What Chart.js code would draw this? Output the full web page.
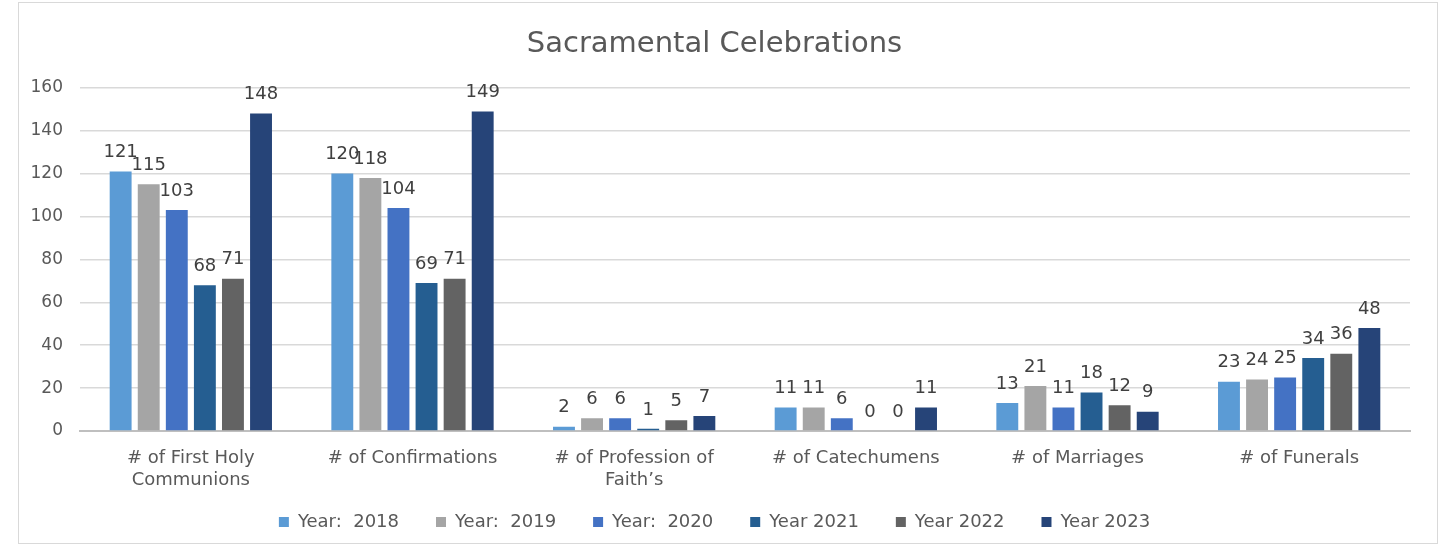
<!DOCTYPE html>
<html>
<head>
<meta charset="utf-8">
<script src="https://cdn.jsdelivr.net/npm/chart.js@4.4.0/dist/chart.umd.min.js"></script>
<style>
    html, body { margin: 0; padding: 0; background: #fff; }
    .frame {
        position: absolute;
        left: 18px; top: 2px;
        width: 1420px; height: 542px;
        border: 1px solid #d9d9d9;
        box-sizing: border-box;
    }
    #chart { position: absolute; left: 0; top: 0; }
</style>
</head>
<body>
<div class="frame"><canvas id="chart" width="1418" height="540"></canvas></div>
<script>
// Dados do gráfico
const categories = [
    ['# of First Holy', 'Communions'],
    '# of Confirmations',
    ['# of Profession of', 'Faith\u2019s'],
    '# of Catechumens',
    '# of Marriages',
    '# of Funerals'
];
const seriesNames = ['Year:  2018', 'Year:  2019', 'Year:  2020', 'Year 2021', 'Year 2022', 'Year 2023'];
const values2018 = [121, 120, 2, 11, 13, 23];
const values2019 = [115, 118, 6, 11, 21, 24];
const values2020 = [103, 104, 6, 6, 11, 25];
const values2021 = [68, 69, 1, 0, 18, 34];
const values2022 = [71, 71, 5, 0, 12, 36];
const values2023 = [148, 149, 7, 11, 9, 48];
const yTicks = [0, 20, 40, 60, 80, 100, 120, 140, 160];
const colors = ['#5B9BD5', '#A5A5A5', '#4472C4', '#255E91', '#636363', '#264478'];

const allValues = [values2018, values2019, values2020, values2021, values2022, values2023];
const FONT = '"DejaVu Sans", Verdana, sans-serif';
const TEXT = '#595959';

// Rótulos de valores acima das barras
const valueLabels = {
    id: 'valueLabels',
    afterDatasetsDraw(chart) {
        const ctx = chart.ctx;
        ctx.save();
        ctx.font = '18px ' + FONT;
        ctx.fillStyle = '#404040';
        ctx.textAlign = 'center';
        ctx.textBaseline = 'bottom';
        chart.data.datasets.forEach((ds, i) => {
            const meta = chart.getDatasetMeta(i);
            meta.data.forEach((bar, j) => {
                ctx.fillText(String(ds.data[j]), bar.x, bar.y - 10);
            });
        });
        ctx.restore();
    }
};

// Legenda mais compacta na vertical (padding grande só na horizontal)
const compactLegend = {
    id: 'compactLegend',
    afterInit(chart) {
        const lg = chart.legend;
        if (!lg) return;
        const fit = lg.fit;
        lg.fit = function() {
            fit.call(this);
            this.height = 38;
        };
    },
    afterLayout(chart) {
        const lg = chart.legend;
        if (!lg) return;
        const shift = lg.options.labels.padding - 10;
        lg.top -= shift;
        lg.height += shift;
    }
};

function initializeChart() {
    const ctx = document.getElementById('chart');
    new Chart(ctx, {
        type: 'bar',
        data: {
            labels: categories,
            datasets: allValues.map((vals, i) => ({
                label: seriesNames[i],
                data: vals,
                backgroundColor: colors[i],
                borderWidth: 0,
                categoryPercentage: 0.76,
                barPercentage: 0.78
            }))
        },
        options: {
            responsive: false,
            animation: false,
            layout: { padding: { left: 0, right: 27, top: 0, bottom: 2 } },
            plugins: {
                title: {
                    display: true,
                    text: 'Sacramental Celebrations',
                    color: TEXT,
                    font: { family: FONT, size: 29, weight: 'normal' },
                    padding: { top: 24, bottom: 26 }
                },
                legend: {
                    position: 'bottom',
                    labels: {
                        boxWidth: 10,
                        boxHeight: 10,
                        padding: 37,
                        color: TEXT,
                        font: { family: FONT, size: 18 }
                    }
                },
                tooltip: { enabled: false }
            },
            scales: {
                x: {
                    afterFit: axis => { axis.height = 72; },
                    grid: { display: false },
                    border: { color: '#bfbfbf', width: 2 },
                    ticks: {
                        color: TEXT,
                        font: { family: FONT, size: 18, lineHeight: 1.25 },
                        maxRotation: 0,
                        padding: 8
                    }
                },
                y: {
                    min: 0,
                    max: 160,
                    afterBuildTicks: axis => { axis.ticks = yTicks.map(v => ({ value: v })); },
                    afterFit: axis => { axis.width = 61; },
                    grid: { color: '#d9d9d9', lineWidth: 1.5, drawTicks: false },
                    border: { display: false },
                    ticks: {
                        color: TEXT,
                        font: { family: FONT, size: 17 },
                        padding: 17
                    }
                }
            }
        },
        plugins: [valueLabels, compactLegend]
    });
}

document.addEventListener('DOMContentLoaded', initializeChart);
</script>
</body>
</html>
